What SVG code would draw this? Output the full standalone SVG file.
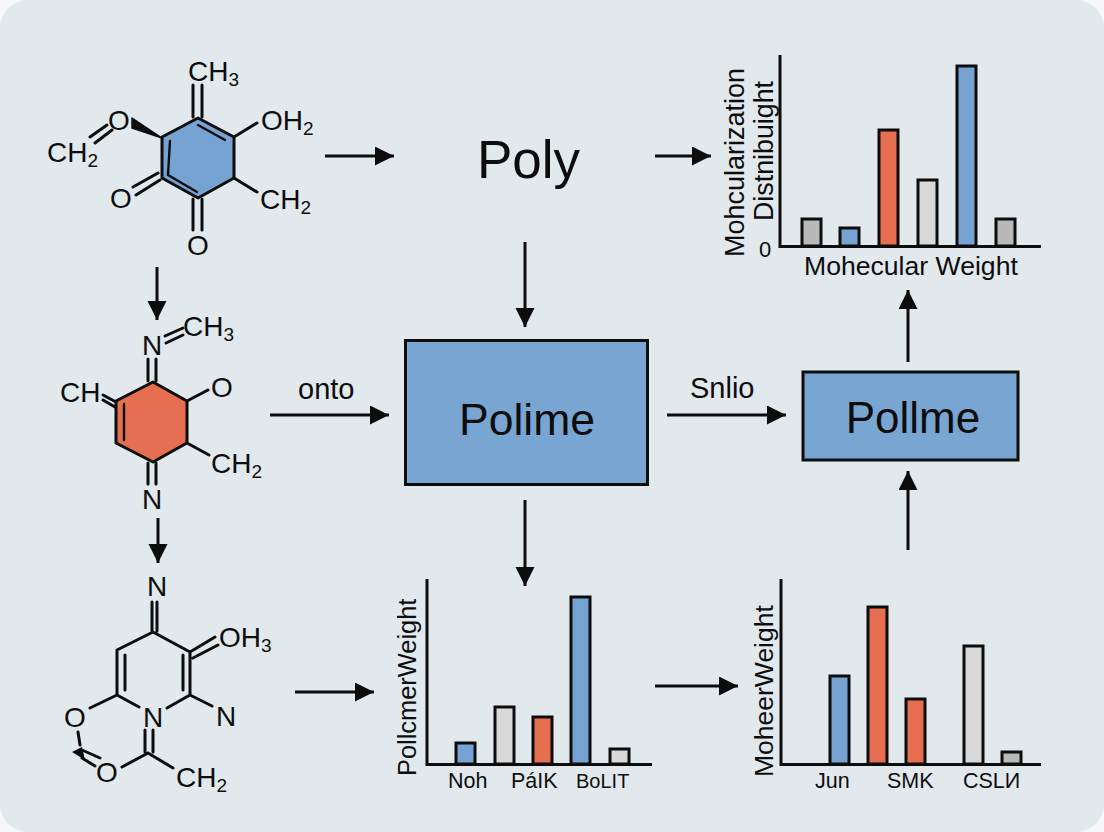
<svg xmlns="http://www.w3.org/2000/svg" width="1104" height="832" viewBox="0 0 1104 832">
<style>
text{font-family:"Liberation Sans",Arial,sans-serif;fill:#0d0d0d}
.a{font-size:28px}
.s{font-size:19px}
.b{fill:none;stroke:#0d0d0d;stroke-width:3;stroke-linecap:round;stroke-linejoin:round}
.i{fill:none;stroke:#0d0d0d;stroke-width:2.400;stroke-linecap:round;stroke-linejoin:round}
.c{fill:none;stroke:#0d0d0d;stroke-width:3;marker-end:url(#h)}
.ax{fill:none;stroke:#0d0d0d;stroke-width:3}
.bar{stroke:#0d0d0d;stroke-width:3}
.blue{fill:#77a3d3}.red{fill:#e76f51}.lt{fill:#d9d9d9}.gr{fill:#b9b9b9}
.box{fill:#78a5d2;stroke:#0d0d0d;stroke-width:3}
.lab{font-size:29px}
.tick{font-size:21.500px}
.tick2{font-size:20px}
</style>
<defs>
<marker id="h" markerUnits="userSpaceOnUse" markerWidth="20" markerHeight="20" refX="19" refY="9.500" orient="auto"><path d="M0 0L19 9.500L0 19Z" fill="#0d0d0d"/></marker>
</defs>
<rect width="1104" height="832" fill="#f5f7f8"/>
<rect width="1104" height="832" rx="28" fill="#e2e9ed"/>

<g id="connectors">
<path class="c" d="M325 156H394"/>
<path class="c" d="M655 156H711"/>
<path class="c" d="M157 267V320"/>
<path class="c" d="M525 242V327"/>
<path class="c" d="M270 415H389"/>
<path class="c" d="M667 415H786"/>
<path class="c" d="M908 362V290"/>
<path class="c" d="M908 550V471"/>
<path class="c" d="M525 500V586"/>
<path class="c" d="M158 518V563"/>
<path class="c" d="M295 692H374"/>
<path class="c" d="M655 686H738"/>
<text class="lab" x="298" y="399">onto</text>
<text class="lab" x="690" y="398">Snlio</text>
</g>

<g id="mol1">
<path d="M198 118L234 137V178L198 198L162 178V137Z" fill="#77a3d3" stroke="#0d0d0d" stroke-width="3" stroke-linejoin="round"/>
<path class="i" d="M198 125L225 140M170 141L168 175L197 192"/>
<path d="M162 138L132 118L132 128Z" fill="#0d0d0d" stroke="#0d0d0d" stroke-width="1.500" stroke-linejoin="round"/>
<path class="b" d="M193 117V85M202 117V85M234 137L257 123M234 178L257 192M193 199V230M202 199V230M158 173L133 187M160 180L136 195M107 125L90 137M112 130L95 143"/>
<text class="a" x="188" y="81">CH<tspan class="s" dy="5">3</tspan></text>
<text class="a" x="261" y="130">OH<tspan class="s" dy="5">2</tspan></text>
<text class="a" x="260" y="209">CH<tspan class="s" dy="5">2</tspan></text>
<text class="a" x="108" y="130">O</text>
<text class="a" x="47" y="162">CH<tspan class="s" dy="5">2</tspan></text>
<text class="a" x="110" y="208">O</text>
<text class="a" x="187" y="255">O</text>
</g>

<g id="mol2">
<path d="M153 382L187 401V443L153 462L116 443V401Z" fill="#e76f51" stroke="#0d0d0d" stroke-width="3" stroke-linejoin="round"/>
<path class="i" d="M124 404V440"/>
<path class="b" d="M148 359V381M156 359V381M148 463V484M156 463V484M165 336L183 328M166 343L183 335M187 401L208 390M187 443L209 455M103 395L116 402M103 400L115 407"/>
<text class="a" x="142" y="355">N</text>
<text class="a" x="183" y="336">CH<tspan class="s" dy="5">3</tspan></text>
<text class="a" x="60" y="402">CH</text>
<text class="a" x="211" y="397">O</text>
<text class="a" x="211" y="473">CH<tspan class="s" dy="5">2</tspan></text>
<text class="a" x="142" y="509">N</text>
</g>

<g id="mol3">
<path class="b" d="M152 602V631M157 602V631M153 632L117 650V695L139 707M153 632L190 652V695L167 708M125 655V690M183 655V690M190 652L215 637M193 658L218 645M117 695L90 708M190 695L212 706M145 730V752M153 730V752M148 753L122 767M148 753L173 768M78 732L80 745M82 750L100 758M82 758L95 766"/>
<path d="M72 752L82 747L85 760Z" fill="#0d0d0d"/>
<text class="a" x="147" y="596">N</text>
<text class="a" x="219" y="647">OH<tspan class="s" dy="5">3</tspan></text>
<text class="a" x="64" y="727">O</text>
<text class="a" x="143" y="727">N</text>
<text class="a" x="216" y="726">N</text>
<text class="a" x="96" y="782">O</text>
<text class="a" x="176" y="787">CH<tspan class="s" dy="5">2</tspan></text>
</g>

<g id="poly"><text x="477" y="178" font-size="53">Poly</text></g>

<g id="box1">
<rect class="box" x="405.500" y="340.500" width="242" height="144"/>
<text x="527" y="435" font-size="44.500" text-anchor="middle">Polime</text>
</g>
<g id="box2">
<rect class="box" x="803" y="372" width="215" height="88"/>
<text x="913" y="433" font-size="44" text-anchor="middle">Pollme</text>
</g>

<g id="chart1">
<path class="ax" d="M780 55V246.500H1041"/>
<rect class="bar gr" x="802" y="219" width="19" height="27"/>
<rect class="bar blue" x="840" y="228" width="19" height="18"/>
<rect class="bar red" x="879" y="130" width="19" height="116"/>
<rect class="bar lt" x="918" y="180" width="19" height="66"/>
<rect class="bar blue" x="957" y="66" width="19" height="180"/>
<rect class="bar gr" x="996" y="219" width="19" height="27"/>
<text x="744" y="257" font-size="27" transform="rotate(-90 744 257)">Mohcularization</text>
<text x="773" y="221" font-size="26.800" transform="rotate(-90 773 221)">Distnibuight</text>
<text x="759" y="257" font-size="22">0</text>
<text x="804" y="275" font-size="26.600">Mohecular Weight</text>
</g>

<g id="chart2">
<path class="ax" d="M427 579V764.500H652"/>
<rect class="bar blue" x="456" y="743" width="19" height="21"/>
<rect class="bar lt" x="495" y="707" width="19" height="57"/>
<rect class="bar red" x="533" y="717" width="19" height="47"/>
<rect class="bar blue" x="571" y="597" width="19" height="167"/>
<rect class="bar lt" x="610" y="749" width="19" height="15"/>
<text x="416" y="776" font-size="25.400" transform="rotate(-90 416 776)">PollcmerWeight</text>
<text class="tick" x="448" y="788">Noh</text>
<text class="tick" x="511" y="788">PáIK</text>
<text class="tick2" x="576" y="788">BoLIT</text>
</g>

<g id="chart3">
<path class="ax" d="M781 579V764.500H1041"/>
<rect class="bar blue" x="830" y="676" width="19" height="88"/>
<rect class="bar red" x="868" y="607" width="19" height="157"/>
<rect class="bar red" x="906" y="699" width="19" height="65"/>
<rect class="bar lt" x="964" y="646" width="19" height="118"/>
<rect class="bar gr" x="1002" y="752" width="19" height="12"/>
<text x="773" y="777" font-size="26.500" transform="rotate(-90 773 777)">MoheerWeight</text>
<text class="tick" x="815" y="788">Jun</text>
<text class="tick" x="887" y="788">SMK</text>
<text class="tick" x="963" y="788">CSLИ</text>
</g>
</svg>
